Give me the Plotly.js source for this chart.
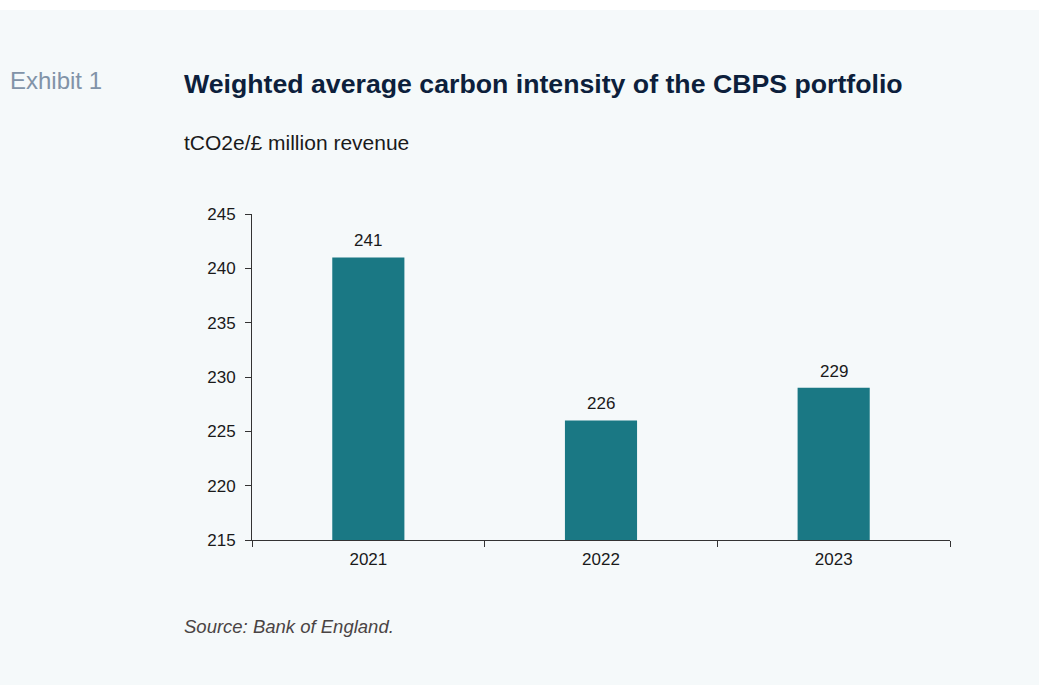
<!DOCTYPE html>
<html>
<head>
<meta charset="utf-8">
<script src="https://cdn.plot.ly/plotly-3.0.1.min.js"></script>
<style>
html,body{margin:0;padding:0;background:#ffffff;}
#chart{position:absolute;left:0;top:10px;width:1039px;height:675px;}
</style>
</head>
<body>
<div id="chart"></div>
<script>
const years = ['2021', '2022', '2023'];
const intensity = [241, 226, 229];
const yTicks = [215, 220, 225, 230, 235, 240, 245];

const W = 1039, H = 675;
const L = 252, R = 950, T = 204, B = 530;
const px = x => (x - L) / (R - L);
const py = y => (B - y) / (B - T);

const font = 'Liberation Sans, Arial, sans-serif';

const trace = {
  type: 'bar',
  x: years,
  y: intensity,
  marker: {color: '#1a7884', line: {width: 0}},
  hoverinfo: 'x+y'
};

// value labels placed on the category axis by index
const valueLabels = years.map((yr, i) => ({
  x: i, y: intensity[i], xref: 'x', yref: 'y',
  text: String(intensity[i]), showarrow: false,
  xanchor: 'center', yanchor: 'bottom', yshift: 5,
  font: {family: font, size: 17, color: '#1a1a1a'}
}));

const layout = {
  width: W, height: H,
  margin: {l: L, r: W - R, t: T, b: H - B, pad: 0},
  paper_bgcolor: '#f5f9fa',
  plot_bgcolor: '#f5f9fa',
  bargap: 0.69,
  showlegend: false,
  font: {family: font, size: 17, color: '#1a1a1a'},
  xaxis: {
    type: 'category',
    categoryorder: 'array', categoryarray: years,
    range: [-0.5, years.length - 0.5],
    tickangle: 0,
    showline: true, linecolor: '#333333', linewidth: 1,
    ticks: 'outside', tickson: 'boundaries', ticklen: 6, tickcolor: '#333333',
    ticklabelstandoff: 4,
    showgrid: false, zeroline: false,
    tickfont: {family: font, size: 17, color: '#1a1a1a'}
  },
  yaxis: {
    range: [215, 245],
    tickvals: yTicks,
    ticktext: yTicks.map(String),
    showline: true, linecolor: '#333333', linewidth: 1,
    ticks: 'outside', ticklen: 6, tickcolor: '#333333',
    ticklabelstandoff: 6,
    showgrid: false, zeroline: false,
    tickfont: {family: font, size: 17, color: '#1a1a1a'}
  },
  annotations: valueLabels.concat([
    {text: 'Exhibit 1', xref: 'paper', yref: 'paper', x: px(8), y: py(71),
     xanchor: 'left', yanchor: 'middle', showarrow: false,
     font: {family: font, size: 24, color: '#8193a8'}},
    {text: '<b>Weighted average carbon intensity of the CBPS portfolio</b>', xref: 'paper', yref: 'paper',
     x: px(182), y: py(74), xanchor: 'left', yanchor: 'middle', showarrow: false,
     font: {family: font, size: 26.7, color: '#0d1f3c'}},
    {text: 'tCO2e/£ million revenue', xref: 'paper', yref: 'paper', x: px(182), y: py(132),
     xanchor: 'left', yanchor: 'middle', showarrow: false,
     font: {family: font, size: 21, color: '#1a1a1a'}},
    {text: '<i>Source: Bank of England.</i>', xref: 'paper', yref: 'paper', x: px(182), y: py(616),
     xanchor: 'left', yanchor: 'middle', showarrow: false,
     font: {family: font, size: 18.5, color: '#4a4444'}}
  ])
};

Plotly.newPlot('chart', [trace], layout, {displayModeBar: false, responsive: false});
</script>
</body>
</html>
